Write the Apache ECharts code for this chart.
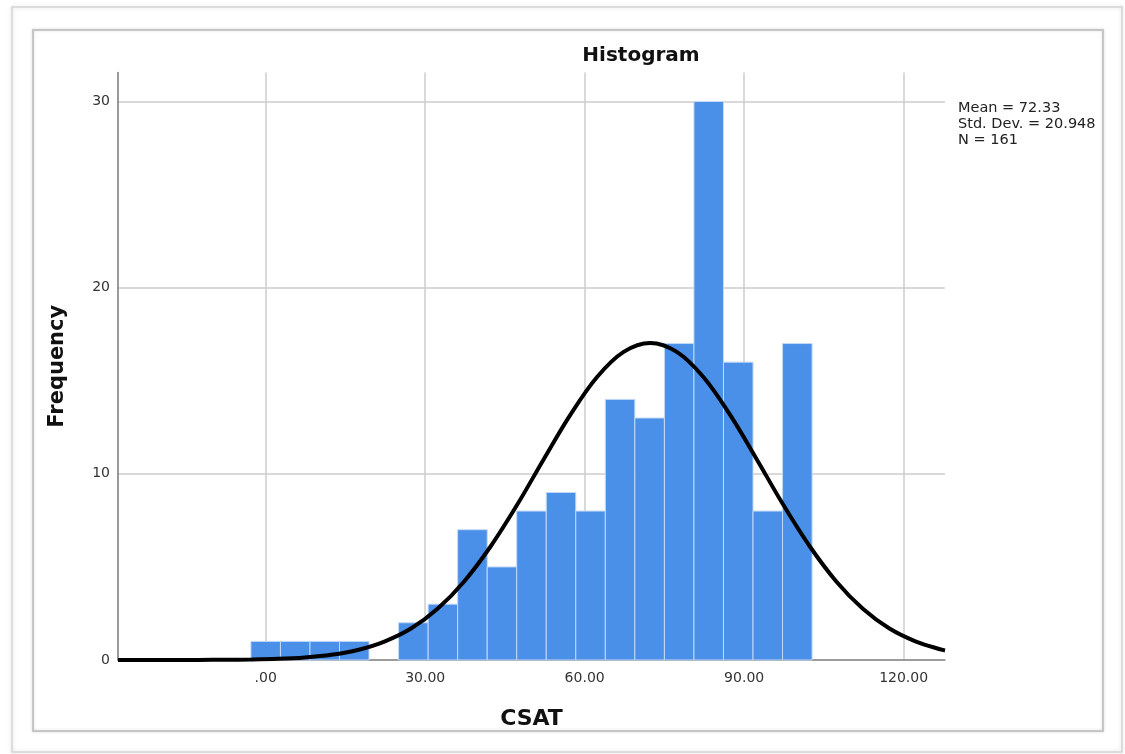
<!DOCTYPE html>
<html>
<head>
<meta charset="utf-8">
<script src="https://cdn.jsdelivr.net/npm/echarts@6/dist/echarts.min.js"></script>
<style>
html,body{margin:0;padding:0;background:#fff;}
#chart{width:1125px;height:754px;}
</style>
</head>
<body>
<div id="chart"></div>
<script>
// ---- Data ----
const binEdges = [-2.78, 2.78, 8.33, 13.89, 19.44, 25.00, 30.56, 36.11, 41.67, 47.22, 52.78, 58.33, 63.89, 69.44, 75.00, 80.56, 86.11, 91.67, 97.22, 102.78];
const counts   = [1, 1, 1, 1, 0, 2, 3, 7, 5, 8, 9, 8, 14, 13, 17, 30, 16, 8, 17];
// fitted normal curve
const curveX   = [-27.78, -22.67, -17.67, -12.67, -7.67, -2.67, 2.33, 7.33, 12.33, 17.33, 22.33, 27.33, 32.33, 37.33, 42.33, 47.33, 52.33, 57.33, 62.33, 67.33, 72.33, 77.33, 82.33, 87.33, 92.33, 97.33, 102.33, 107.33, 112.33, 117.33, 122.33, 127.33, 127.78];
const curveY   = [0, 0, 0.002, 0.005, 0.012, 0.028, 0.064, 0.14, 0.28, 0.54, 0.99, 1.69, 2.75, 4.22, 6.11, 8.35, 10.8, 13.18, 15.2, 16.55, 17.03, 16.55, 15.2, 13.18, 10.8, 8.35, 6.11, 4.22, 2.75, 1.69, 0.99, 0.54, 0.51];
const xTicks   = [0, 30, 60, 90, 120];
const yTicks   = [0, 10, 20, 30];
const statsLines = ['Mean = 72.33', 'Std. Dev. = 20.948', 'N = 161'];
const titleText = 'Histogram';
const xName = 'CSAT';
const yName = 'Frequency';

const binData = counts.map((c, i) => [binEdges[i], binEdges[i + 1], c]);
const lineData = curveX.map((x, i) => [x, curveY[i]]);

const FONT = 'DejaVu Sans';
const chart = echarts.init(document.getElementById('chart'));

chart.setOption({
  animation: false,
  backgroundColor: '#ffffff',
  title: {
    text: titleText,
    left: 636, top: 41,
    textAlign: 'center',
    textStyle: { fontFamily: FONT, fontSize: 20, fontWeight: 'bold', color: '#111' }
  },
  graphic: [
    { type: 'rect', shape: { x: 12, y: 7, width: 1110, height: 745 },
      style: { fill: 'none', stroke: '#d4d4d4', lineWidth: 1.5, shadowBlur: 4, shadowColor: 'rgba(0,0,0,0.15)' }, silent: true, z: -10 },
    { type: 'rect', shape: { x: 33, y: 30, width: 1070, height: 701 },
      style: { fill: '#fff', stroke: '#c6c6c6', lineWidth: 2, shadowBlur: 3, shadowColor: 'rgba(0,0,0,0.12)' }, silent: true, z: -9 },
    { type: 'text', left: 958, top: 100,
      style: { text: statsLines.join('\n'), font: '14.5px "DejaVu Sans"', fill: '#222', lineHeight: 16 } }
  ],
  grid: { left: 118, right: 180, top: 72.5, bottom: 94, containLabel: false },
  xAxis: {
    type: 'value', min: -27.78, max: 127.78,
    name: xName, nameLocation: 'middle', nameGap: 48,
    nameTextStyle: { fontFamily: FONT, fontSize: 22, fontWeight: 'bold', color: '#111' },
    axisLine: { show: true, onZero: false, lineStyle: { color: '#888', width: 1.5 } },
    axisTick: { show: false, customValues: xTicks },
    axisLabel: { customValues: xTicks, margin: 11, fontFamily: FONT, fontSize: 14, color: '#333',
      formatter: v => (v === 0 ? '.00' : v.toFixed(2)) },
    splitLine: { show: true, lineStyle: { color: '#cccccc', width: 1.5 } }
  },
  yAxis: {
    type: 'value', min: 0, max: 31.56,
    name: yName, nameLocation: 'middle', nameGap: 50,
    nameTextStyle: { fontFamily: FONT, fontSize: 21, fontWeight: 'bold', color: '#111' },
    axisLine: { show: true, onZero: false, lineStyle: { color: '#777', width: 1.5 } },
    axisTick: { show: false, customValues: yTicks },
    axisLabel: { customValues: yTicks, margin: 8, fontFamily: FONT, fontSize: 14, color: '#333' },
    splitLine: { show: true, lineStyle: { color: '#cccccc', width: 1.5 } }
  },
  series: [
    {
      type: 'custom',
      data: binData,
      z: 2,
      renderItem: function (params, api) {
        if (api.value(2) <= 0) return null;
        const p0 = api.coord([api.value(0), 0]);
        const p1 = api.coord([api.value(1), api.value(2)]);
        return {
          type: 'rect',
          shape: { x: p0[0], y: p1[1], width: p1[0] - p0[0], height: p0[1] - p1[1] },
          style: { fill: '#4a8fe8', stroke: '#c2d9f6', lineWidth: 1 }
        };
      }
    },
    {
      type: 'line',
      data: lineData,
      z: 5,
      smooth: 0.35,
      showSymbol: false,
      lineStyle: { color: '#000', width: 4 }
    }
  ]
});
</script>
</body>
</html>
